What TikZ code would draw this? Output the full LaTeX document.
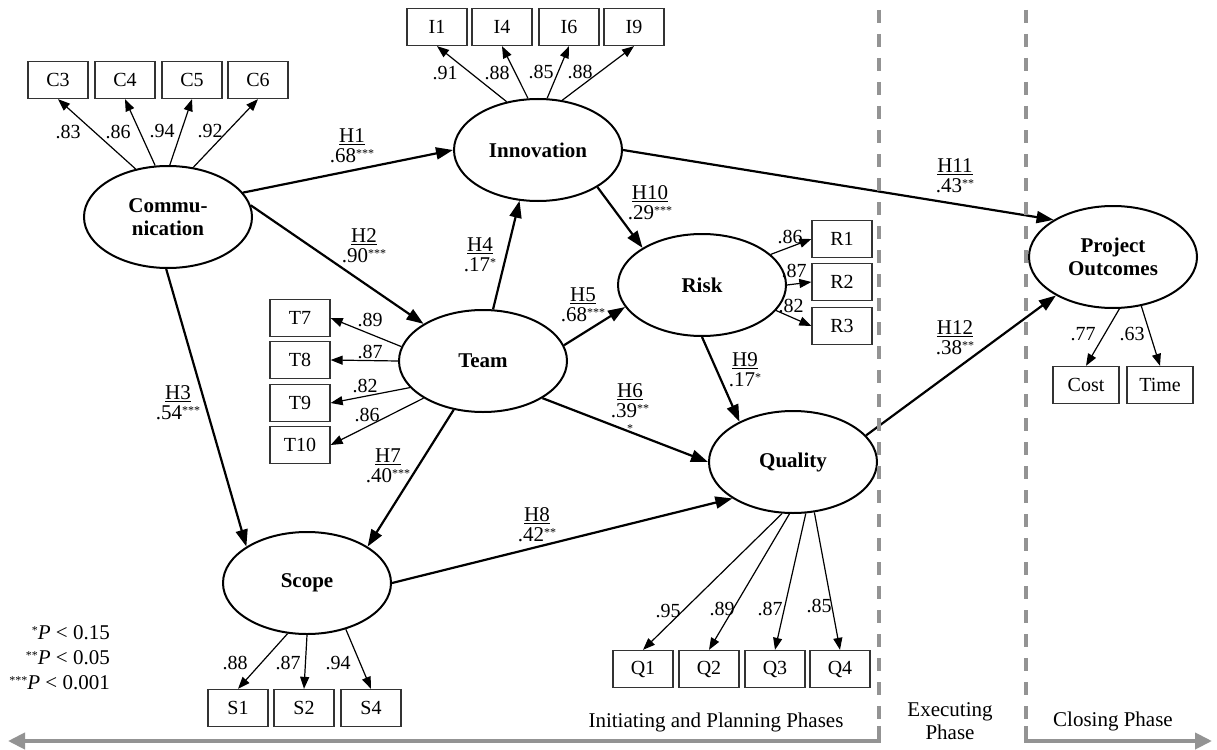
\documentclass[tikz,border=0pt]{standalone}
\usepackage{fontspec}
\setmainfont{Liberation Serif}
\usepackage{tikz}
\usetikzlibrary{arrows.meta,shapes.geometric}
\tikzset{>=stealth}
\tikzset{
  latent/.style={draw, ellipse, line width=2pt, minimum width=168pt, minimum height=102pt, inner sep=0pt, align=center, font=\fontsize{21}{23}\selectfont\bfseries},
  item/.style={draw=black!80, line width=1.3pt, minimum width=60pt, minimum height=37pt, inner sep=0pt, font=\fontsize{20}{22}\selectfont},
  load/.style={line width=1.2pt, -{Triangle[length=12pt,width=9pt]}},
  hyp/.style={line width=2.2pt, -{Triangle[length=17pt,width=12pt]}},
  coef/.style={inner sep=0pt, font=\fontsize{20}{22}\selectfont},
  hlab/.style={inner sep=0pt, align=center, font=\fontsize{21}{20}\selectfont},
  phase/.style={inner sep=0pt, align=center, font=\fontsize{21}{23}\selectfont},
  divider/.style={draw=gray!85, line width=3.5pt, dash pattern=on 13pt off 11pt},
  timeline/.style={draw=gray!85, line width=4pt, -{Triangle[length=17pt,width=16pt]}}
}
\newcommand{\hypo}[2]{\underline{#1}\\#2}
\newcommand{\st}[1]{\raisebox{5pt}{\fontsize{12}{12}\selectfont #1}}

\begin{document}
\begin{tikzpicture}[x=1pt,y=-1pt]
        \useasboundingbox (0,0) rectangle (1217,749);

        \node[latent] at (168,217) (comm) {Commu-\\nication};
        \node[latent] at (538,150) (innov) {Innovation};
        \node[latent] at (483,361) (team) {Team};
        \node[latent] at (702,285) (risk) {Risk};
        \node[latent] at (793,462) (qual) {Quality};
        \node[latent] at (307,583) (scope) {Scope};
        \node[latent] at (1113,257) (outc) {Project\\Outcomes};

        \node[item] at (58,80) (c3) {C3};
        \node[item] at (125,80) (c4) {C4};
        \node[item] at (192,80) (c5) {C5};
        \node[item] at (258,80) (c6) {C6};
        \node[item] at (437,27) (i1) {I1};
        \node[item] at (502,27) (i4) {I4};
        \node[item] at (569,27) (i6) {I6};
        \node[item] at (634,27) (i9) {I9};
        \node[item] at (842,239) (r1) {R1};
        \node[item] at (842,282) (r2) {R2};
        \node[item] at (842,326) (r3) {R3};
        \node[item] at (300,318) (t7) {T7};
        \node[item] at (300,360) (t8) {T8};
        \node[item] at (300,403) (t9) {T9};
        \node[item] at (300,445) (t10) {T10};
        \node[item] at (643,669) (q1) {Q1};
        \node[item] at (709,669) (q2) {Q2};
        \node[item] at (775,669) (q3) {Q3};
        \node[item] at (840,669) (q4) {Q4};
        \node[item] at (238,708) (s1) {S1};
        \node[item] at (304,708) (s2) {S2};
        \node[item] at (371,708) (s4) {S4};
        \node[item, minimum width=66pt] at (1086,385) (cost) {Cost};
        \node[item, minimum width=66pt] at (1160,385) (time) {Time};

        % loadings
        \draw[load] (comm.124) -- (c3.south);
        \draw[load] (comm.104) -- (c4.south);
        \draw[load] (comm.88) -- (c5.south);
        \draw[load] (comm.63) -- (c6.south);
        \draw[load] (innov.123) -- (i1.south);
        \draw[load] (innov.101) -- (i4.south);
        \draw[load] (innov.80) -- (i6.south);
        \draw[load] (innov.64) -- (i9.south);
        \draw[load] (risk.24) -- (r1.west);
        \draw[load] (risk.0) -- (r2.west);
        \draw[load] (risk.-19) -- (r3.west);
        \draw[load] (team.170) -- (t7.east);
        \draw[load] (team.180) -- (t8.east);
        \draw[load] (team.200) -- (t9.east);
        \draw[load] (team.212) -- (t10.east);
        \draw[load] (qual.258) -- (q1.north);
        \draw[load] (qual.266) -- (q2.north);
        \draw[load] (qual.284) -- (q3.north);
        \draw[load] (qual.293) -- (q4.north);
        \draw[load] (scope.249) -- (s1.north);
        \draw[load] (scope.270) -- (s2.north);
        \draw[load] (scope.310) -- (s4.north);
        \draw[load] (outc.277) -- (cost.north);
        \draw[load] (outc.300) -- (time.north);

        \node[coef] at (68,132) (lc3) {.83};
        \node[coef] at (118,132) (lc4) {.86};
        \node[coef] at (162,131) (lc5) {.94};
        \node[coef] at (210,131) (lc6) {.92};
        \node[coef] at (445,73) (li1) {.91};
        \node[coef] at (497,73) (li4) {.88};
        \node[coef] at (541,72) (li6) {.85};
        \node[coef] at (580,72) (li9) {.88};
        \node[coef] at (790,237) (lr1) {.86};
        \node[coef] at (794,271) (lr2) {.87};
        \node[coef] at (791,306) (lr3) {.82};
        \node[coef] at (370,320) (lt7) {.89};
        \node[coef] at (370,352) (lt8) {.87};
        \node[coef] at (365,386) (lt9) {.82};
        \node[coef] at (367,415) (lt10) {.86};
        \node[coef] at (668,611) (lq1) {.95};
        \node[coef] at (722,609) (lq2) {.89};
        \node[coef] at (770,609) (lq3) {.87};
        \node[coef] at (819,606) (lq4) {.85};
        \node[coef] at (235,663) (ls1) {.88};
        \node[coef] at (288,663) (ls2) {.87};
        \node[coef] at (338,663) (ls4) {.94};
        \node[coef] at (1083,334) (lcost) {.77};
        \node[coef] at (1132,334) (ltime) {.63};

        % hypotheses
        \draw[hyp] (comm.18) -- (innov.180);
        \draw[hyp] (comm.8) -- (team.148);
        \draw[hyp] (comm.268) -- (scope.149);
        \draw[hyp] (team.79) -- (innov.250);
        \draw[hyp] (team.11) -- (risk.196);
        \draw[hyp] (team.328) -- (qual.180);
        \draw[hyp] (team.239) -- (scope.31);
        \draw[hyp] (scope.0) -- (qual.211);
        \draw[hyp] (risk.270) -- (qual.143);
        \draw[hyp] (innov.328) -- (risk.148);
        \draw[hyp] (innov.0) -- (outc.148);
        \draw[hyp] (qual.20) -- (outc.214);

        \node[hlab] at (352,146) (h1) {\hypo{H1}{.68\st{***}}};
        \node[hlab] at (364,246) (h2) {\hypo{H2}{.90\st{***}}};
        \node[hlab] at (178,403) (h3) {\hypo{H3}{.54\st{***}}};
        \node[hlab] at (480,255) (h4) {\hypo{H4}{.17\st{*}}};
        \node[hlab] at (583,305) (h5) {\hypo{H5}{.68\st{***}}};
        \node[hlab, anchor=north] at (630,383) (h6) {\hypo{H6}{.39\st{**}}\\[-5pt]{\fontsize{12}{12}\selectfont *}};
        \node[hlab] at (388,466) (h7) {\hypo{H7}{.40\st{***}}};
        \node[hlab] at (537,525) (h8) {\hypo{H8}{.42\st{**}}};
        \node[hlab] at (745,370) (h9) {\hypo{H9}{.17\st{*}}};
        \node[hlab] at (650,203) (h10) {\hypo{H10}{.29\st{***}}};
        \node[hlab] at (955,176) (h11) {\hypo{H11}{.43\st{**}}};
        \node[hlab] at (955,338) (h12) {\hypo{H12}{.38\st{**}}};

        \node[phase, align=right, anchor=east, font=\fontsize{21}{25}\selectfont] at (110,658) (legend)
          {\st{*}\textit{P} < 0.15\\\st{**}\textit{P} < 0.05\\\st{***}\textit{P} < 0.001};

        % phases
        \draw[divider] (879,10) -- (879,728);
        \draw[divider] (1026,10) -- (1026,728);
        \draw[timeline] (879,726) -- (879,741) -- (8,741);
        \draw[timeline] (1026,726) -- (1026,741) -- (1212,741);
        \node[phase] at (716,722) (init) {Initiating and Planning Phases};
        \node[phase] at (950,721) (exec) {Executing\\Phase};
        \node[phase] at (1113,721) (close) {Closing Phase};
\end{tikzpicture}
\end{document}
